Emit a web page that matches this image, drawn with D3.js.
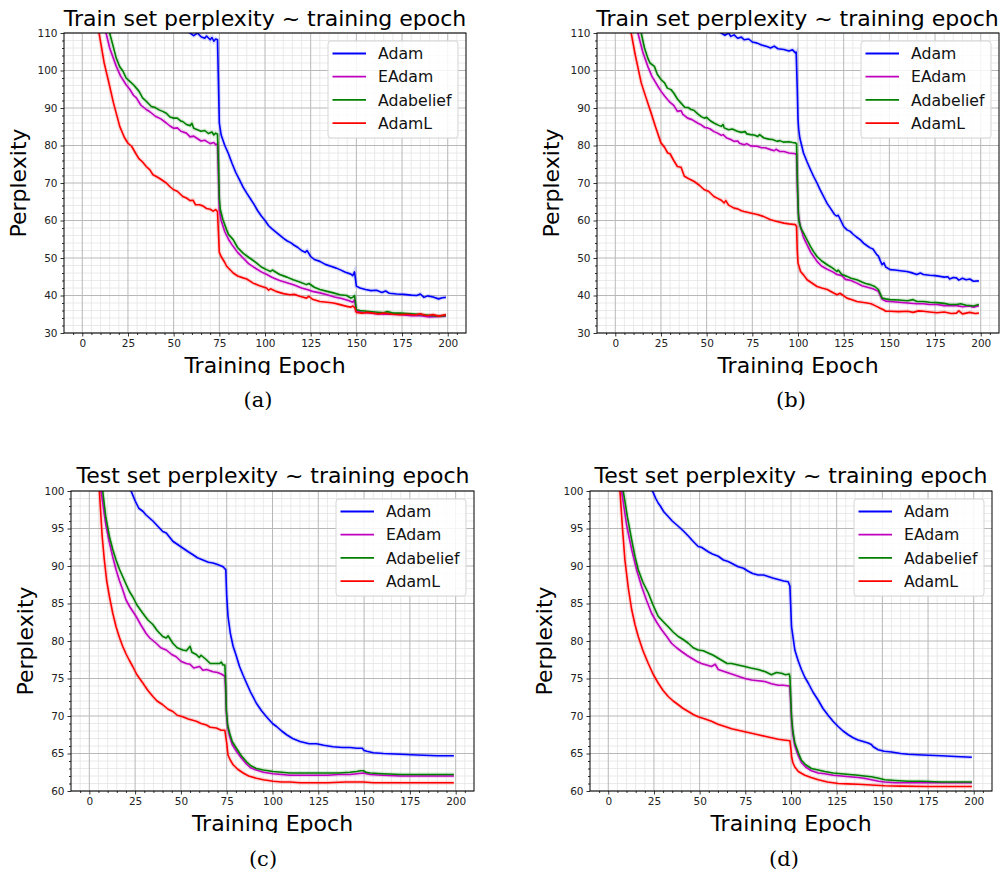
<!DOCTYPE html>
<html>
<head>
<meta charset="utf-8">
<script src="https://cdn.jsdelivr.net/npm/d3@7"></script>
<style>
  body { margin: 0; background: #fff; }
  svg { display: block; font-family: "DejaVu Sans", sans-serif; }
</style>
</head>
<body>
<svg width="1005" height="871"></svg>
<script>
// ---- data: [epoch, perplexity] ----
var seriesNames = ['Adam', 'EAdam', 'Adabelief', 'AdamL'];
var seriesColors = ['#0000ff', '#bf00bf', '#008000', '#ff0000'];
var xTicks = [0, 25, 50, 75, 100, 125, 150, 175, 200];
var trainTicks = [30, 40, 50, 60, 70, 80, 90, 100, 110];
var testTicks = [60, 65, 70, 75, 80, 85, 90, 95, 100];

// (a) train, lr decay at 75 / 150
var adamA = [[0,300],[20,150],[40,120],[55,111.5],[59,110],[61,109.3],[63,110],[65,109],[67,108.6],[68,109.2],[70,108.2],[71,108.8],[72,107.8],[73,108.4],[74,108.2],[75,86],[76,82.8],[78,80],[80,77.8],[82,75.2],[84,72.8],[86,70.9],[88,68.9],[90,67.3],[92,65.8],[94,64.3],[96,62.6],[98,61.2],[100,60],[102,58.6],[104,57.7],[106,56.9],[108,56.1],[110,55.3],[112,54.6],[114,54.1],[116,53.4],[118,52.8],[120,52],[122,51.5],[123,52],[125,50.4],[127,49.6],[130,49.1],[133,48.3],[136,47.8],[139,47.3],[141,46.9],[144,46.2],[147,45.7],[148,45.3],[149,46.3],[150,42.5],[152,42],[155,41.6],[158,41.3],[161,41.4],[164,40.8],[166,41.2],[168,40.6],[172,40.4],[176,40.3],[180,40.1],[183,40],[185,40.4],[187,39.5],[189,39.9],[192,39.6],[195,39.1],[197,39.4],[199,39.5]];
var eadamA = [[0,250],[5,150],[10,118],[13,110],[15,106],[18.6,101.1],[21,98.5],[24,96.2],[26,95],[28,93.4],[29.6,92.7],[32,90.8],[35,89.6],[37,89],[40,87.8],[43,87.1],[46,86],[48,85.2],[50,84.6],[52,84.7],[54,83.8],[57,83.3],[59,82.3],[61,82.5],[62.5,82],[65,81.2],[67,81.4],[68,81.1],[70,80.5],[72,80.8],[73,80.2],[74,80.4],[74.5,72],[75,63],[76,60],[78,57],[80,55],[82,53.5],[85,51.5],[88,50],[91,48.5],[95,47.2],[98,46.3],[101,45.6],[104,44.8],[108,44],[112,43.4],[116,42.8],[120,42],[123,41.6],[126,41.1],[130,40.7],[134,40.2],[138,39.6],[142,39.2],[146,38.6],[148,38.2],[149,38.8],[150,35.9],[153,35.5],[156,35.4],[160,35.2],[165,35],[170,35],[175,34.9],[180,34.6],[185,34.6],[190,34.3],[195,34.4],[199,34.5]];
var adabeliefA = [[0,260],[5,160],[10,122],[15,110],[18.6,103.3],[20.5,101],[22.3,99.8],[24,98],[26,97.1],[28,96.2],[29.6,95.3],[31,94.5],[33,92.7],[35,91.8],[37.8,90.4],[40,90.1],[42,89.5],[44,89.1],[46,88.6],[48,87.6],[50,87.3],[52,87.3],[54,86.5],[55,86.4],[57,85.6],[59,85.3],[60,85.9],[61,84.6],[63,84.2],[65,83.8],[67,84],[69,83.2],[71,83.6],[72,82.8],[73,83.3],[74,83],[74.5,76],[75,66],[75.5,63],[77,60.2],[79,57.5],[80,56.3],[82.6,54.9],[85,52.8],[88,51.3],[91,50.2],[95.3,48.7],[98,47.6],[100.8,46.9],[103,46.4],[104,46.8],[108,45.6],[112,44.9],[115.4,44.2],[119,43.6],[122.7,42.9],[124,43.2],[127,42.2],[130,41.6],[134,41.1],[137.4,40.7],[141,40.2],[144.7,40],[147,39.3],[148.3,39.6],[149,40],[150,36.2],[152,36],[155.6,35.8],[160,35.6],[165,35.4],[167,35.7],[170,35.3],[174,35.3],[180,35.1],[186,34.9],[192,34.6],[196,34.5],[199,34.7]];
var adamlA = [[0,180],[3,145],[6,124],[9,110.5],[12,102],[15,95.8],[17,91.5],[20.5,85.1],[23,82.2],[25,80.6],[27,79.8],[29.6,77.6],[31,76.5],[33,75.6],[35,74.4],[37,73.5],[38.7,72.2],[41,71.6],[43,71],[46,70],[48,69],[50,68.2],[52,67.8],[55,66.4],[57,66],[59,65.3],[60.6,65.4],[62,64.2],[64,64.2],[66,63.9],[68,63.2],[70,63],[71.6,62.5],[73,62.9],[74,62.4],[74.5,57],[75,51.5],[76,50.4],[78,48.8],[79,47.8],[81,46.8],[82.6,46],[85,45.2],[88,44.7],[90,44.4],[93.5,43.3],[97,42.6],[100.8,42],[102,41.4],[103,41.8],[106,41.1],[110,40.5],[113.6,40.2],[116,40.3],[119,39.8],[122.7,39.3],[124,39.8],[126,39],[130,38.4],[134,38.2],[137.4,38],[140,37.7],[144.7,37.1],[147,36.9],[148,37.2],[149.2,36.7],[150,35.5],[153,35.3],[156,35.5],[159,35.3],[162,35.1],[165,35.3],[170,35],[174,34.9],[178,35],[182,34.8],[185,35.1],[188.5,34.6],[192,34.9],[195,34.5],[199,34.9]];

// (b) train, lr decay at 100 / 145
var adamB = [[0,300],[20,160],[40,125],[55,111],[58,110],[60,109.4],[62,110],[63.2,109.1],[65,109.5],[67,108.6],[69,108.9],[70.5,108.2],[73,108.4],[75,107.6],[77.7,107.3],[80,106.8],[83,106.4],[85,106],[87,106.5],[89,105.8],[92.3,105.6],[95,105.2],[97,105.5],[98.6,104.7],[99,104.9],[99.6,95],[100,87],[100.4,84.2],[101,82],[103,78],[105,75.6],[106.8,73.6],[108.5,71.8],[110.4,70],[112,68.3],[114,66.4],[116,64.5],[117.7,63.3],[120,61.6],[121,61.2],[122,61.4],[123.2,60.2],[125,58.4],[126.8,57.5],[128.6,57.1],[130,56.4],[132,55.6],[134,54.9],[136,53.9],[138,53.2],[139.5,52.7],[141,52.4],[143.1,50.9],[144,50.5],[145,49.3],[146,48.2],[147,48.7],[148,47.6],[150.4,46.9],[153,46.8],[156,46.6],[159.5,46.4],[162,46.1],[165,45.6],[167,46],[168.6,45.6],[172,45.4],[175,45.3],[177.7,45.1],[180,44.9],[182,45],[183,44.4],[185,44.8],[186.7,44.7],[188,44.1],[190,44.6],[192,44.2],[194,44.4],[196,43.8],[199,43.9]];
var eadamB = [[0,250],[5,160],[9,120],[12.4,110],[15,105],[17.8,101.1],[20,98.5],[23.3,95.8],[25,94.5],[27,93.2],[28.7,92.2],[30,91.5],[32,90.7],[34,89.1],[36,89.3],[37,88.3],[39.6,87.3],[42,86.9],[45,86],[47,85.5],[49,84.8],[50.5,84.7],[52,84.4],[54,83.7],[56,83.3],[58,82.7],[59,82.9],[61,82],[63.2,81.6],[65,81.1],[67,81.2],[68,80.6],[70.5,80.2],[72,80.5],[74,79.9],[77.7,79.8],[80,79.4],[82,79.4],[85,78.9],[87,78.6],[88,79],[90,78.4],[92.3,78.4],[95,78],[98.6,77.8],[99.2,77.5],[99.7,68],[100.2,62],[101,59],[103,55.5],[105,53.5],[107,51.5],[110.4,49.1],[113,47.8],[116,47],[119,46.3],[121.3,45.6],[124,45.3],[126,44.3],[129,44],[132.2,43.3],[135,42.6],[138,42.2],[141,41.8],[144,41.1],[145,40],[146,39],[148,38.5],[150.4,38.4],[155,38.2],[160,38],[165,37.8],[168.6,37.8],[172,37.6],[176,37.6],[180,37.3],[186.7,37.3],[190,37],[194,37.2],[196,36.9],[199,37.3]];
var adabeliefB = [[0,260],[5,170],[10,125],[14.2,110],[16,106],[17.8,103.3],[19,102],[21.4,101.1],[23,99],[25,97.6],[27,96.7],[28.5,95.3],[30.5,94.9],[32,94],[34,92.4],[36,91.3],[38,90.2],[40,90.1],[41.4,89.6],[43,89.4],[45,88.5],[47,87.7],[48.7,87.3],[50,87.5],[52,86.6],[54,86],[56,85.5],[58,85.1],[59,85.6],[59.6,84.7],[62,84.2],[64,84.4],[66.8,83.8],[69,83.5],[71,83.7],[72,83.1],[74,82.9],[76,82.8],[78,82.4],[79,82.9],[81.4,82],[84,81.7],[86,81.6],[88.6,81.1],[90,81.3],[92,80.9],[95,81],[97,80.8],[98.6,80.7],[99.2,80.4],[99.7,70],[100.2,62],[100.4,60.2],[101.5,58],[103,56.7],[105,54.8],[106.8,53.1],[108.5,51.7],[110.4,50.4],[113,49.2],[116,48.2],[119,47.3],[121.3,46.4],[122,46.8],[124,45.6],[126.8,45.1],[129,44.6],[132.2,44.2],[135,43.6],[137,43.2],[139.5,42.9],[142,42.4],[144,41.6],[145,40.5],[146,39.3],[148,39.1],[150.4,38.9],[155,38.8],[160,38.6],[163,38.9],[165,38.4],[168.6,38.4],[172,38.2],[176,38.1],[180,37.9],[183,37.6],[186.7,37.6],[189,37.8],[192,37.4],[196,37.2],[199,37.6]];
var adamlB = [[0,190],[3,150],[6,125],[8.7,110],[11,104],[14.2,96.7],[17,92.5],[19.6,88.7],[22,85],[25,80.7],[27,79.5],[28.7,78],[30,77.8],[32,76],[34,74.4],[36,74.2],[37.8,71.8],[40,71.2],[43.2,70.4],[46,69.4],[48.7,68.2],[51,67.8],[54,66.4],[56,65.9],[58,65.4],[59.6,64.7],[60.5,65.3],[62,64.1],[65,63.3],[67,63.1],[69,62.6],[70.5,62.4],[74,62],[77.7,61.6],[81,61.1],[85,60.2],[88,59.8],[92.3,59.3],[95,59.1],[98.6,58.9],[99.2,58.4],[99.6,52],[100,48.7],[101.4,46.4],[103,45.5],[105,44.2],[108,43.2],[110.4,42.4],[113,42],[116,41.6],[119,40.8],[121.3,40.2],[123,40.6],[126.8,39.3],[130,38.8],[132.2,38.4],[135,38.2],[137.7,38],[140,37.8],[143,37.1],[145,36.6],[146.8,36.2],[148,35.8],[150.4,35.8],[155,35.7],[160,35.8],[163,35.5],[166,35.9],[168.6,35.8],[172,35.6],[176,35.4],[180,35.6],[184,35.2],[186.7,35.3],[188,35.9],[190,35.1],[194,35.5],[197,35.2],[199,35.3]];

// (c) test, lr decay at 75 / 150
var adamC = [[0,200],[10,130],[20,103],[22.8,100],[25,98.7],[27,97.7],[29.2,97.3],[31,96.8],[34.7,96],[37,95.4],[40.1,94.6],[42,94.4],[45.6,93.3],[48,92.9],[51,92.4],[54,91.9],[56.6,91.5],[59,91.1],[62,90.8],[65,90.5],[67.5,90.4],[70,90.2],[73,89.9],[74.5,89.5],[75,86],[75.7,83.3],[77,81],[78.5,79.3],[80,78.2],[82,76.6],[84,75.4],[85.8,74.4],[88,73.2],[91.2,71.7],[94,70.7],[96.7,69.9],[100,69],[102.2,68.6],[105,68],[107.7,67.5],[111,67],[115,66.6],[120,66.3],[124,66.3],[128,66.1],[133,65.9],[138,65.8],[142.3,65.8],[146,65.7],[149,65.7],[150,65.4],[151.5,65.3],[155,65.1],[160.6,65],[170,64.9],[178.8,64.8],[190,64.7],[199,64.7]];
var eadamC = [[0,140],[4,110],[6.4,100],[9,95.5],[11,93.1],[12.8,91.2],[14.6,89.5],[16.5,88],[18,87],[20,85.5],[22,84.6],[25.5,83.3],[28,82.2],[31,81],[33,80.4],[36.5,79.7],[39,79.1],[42,78.8],[45,78.2],[47.4,77.9],[50,77.3],[52.9,77],[55,76.9],[57,76.4],[60.2,76.6],[62,76.1],[64,76.2],[67.5,75.9],[70,75.8],[72,75.6],[74,75.3],[74.5,73],[74.8,70.5],[75.5,68.5],[76.6,67.3],[78,66.2],[80.3,65.3],[83,64.4],[85.8,63.6],[88,63.1],[91.2,62.8],[95,62.5],[100.4,62.3],[105,62.2],[109.5,62.1],[115,62.1],[124,62.1],[130,62.1],[136,62.2],[142.3,62.2],[146,62.3],[149.6,62.4],[153.3,62.2],[160,62.1],[170,62],[178.8,62],[190,62],[199,62]];
var adabeliefC = [[0,140],[4,112],[7.3,100],[9,96.5],[11,93.9],[12.8,92.2],[14.6,90.8],[16.4,89.6],[18.2,88.6],[20,87.6],[21.9,86.6],[23.7,85.9],[26,84.8],[29.2,83.7],[32,82.8],[34.7,82.2],[37,81.4],[40.1,80.6],[42,80.4],[43,80.7],[45.6,79.7],[48,79.1],[51,78.8],[53,78.7],[55,79.3],[56,78.5],[58.4,78.2],[60,77.8],[61,78.1],[63.9,77.5],[66,77],[68,77],[71.2,77],[72,77.2],[73,76.8],[74,76.8],[74.5,74],[74.8,70.8],[75.5,68.8],[76.6,67.7],[78,66.6],[80.3,65.7],[83,64.7],[85.8,63.9],[88,63.4],[91.2,63],[95,62.8],[100.4,62.6],[105,62.5],[109.5,62.4],[115,62.4],[120,62.4],[124,62.4],[130,62.4],[136,62.4],[142.3,62.5],[146,62.6],[148,62.7],[149.6,62.7],[151,62.5],[153.3,62.4],[160,62.3],[170,62.2],[178.8,62.2],[190,62.2],[199,62.2]];
var adamlC = [[0,130],[3,110],[5.5,100],[7,94],[8.2,90.8],[9.5,88],[11,85.9],[12.8,83.7],[14.6,81.9],[16.4,80.5],[18.2,79.3],[20,78.3],[21.9,77.4],[23.7,76.6],[26,75.5],[29.2,74.4],[32,73.4],[34.7,72.6],[37,72],[40.1,71.5],[43,70.9],[45.6,70.6],[48,70.1],[51,69.9],[54,69.6],[58.4,69.3],[61,69],[63.9,68.8],[66,68.5],[69.3,68.4],[72,68.1],[74,68.1],[74.5,67.2],[75,66.4],[75.7,64.8],[77,64.1],[78.5,63.5],[81,62.9],[84,62.4],[87,62],[91.2,61.7],[95,61.5],[100.4,61.3],[105,61.2],[109.5,61.2],[115,61.1],[124,61.1],[130,61.1],[140,61.2],[149.6,61.2],[155,61.1],[165,61.1],[178.8,61.1],[190,61.1],[199,61.1]];

// (d) test, lr decay at 100 / 145
var adamD = [[0,200],[10,140],[20,108],[24.2,100],[26,99],[27.3,98.4],[28.5,98],[29.2,97.7],[30.5,97.2],[32.8,96.6],[35,96],[38.3,95.3],[41,94.7],[43.8,94],[46,93.4],[49.2,92.6],[51,92.5],[54.7,91.9],[57,91.6],[60.2,91.3],[63,90.8],[65.6,90.6],[68,90.3],[71.1,89.9],[74,89.7],[76.6,89.3],[79,89],[82,88.8],[85,88.8],[87.5,88.6],[90,88.4],[93,88.2],[96,88],[98.5,87.9],[99.4,87.3],[100.3,81.9],[102.1,78.8],[104,77.3],[105.7,76.2],[107.5,75.2],[109.4,74.4],[112,73.2],[114.9,72.1],[117.5,71],[120.3,70.1],[123,69.3],[125.8,68.6],[128.5,68],[131.3,67.5],[134,67.1],[136.7,66.8],[139.5,66.6],[142.2,66.4],[144,66.2],[145,65.9],[147.7,65.5],[151,65.3],[155,65.2],[160,65],[164,64.9],[172,64.8],[182.3,64.7],[190,64.6],[199,64.5]];
var eadamD = [[0,150],[4,112],[7.3,100],[10,95.5],[12.8,92.2],[15.5,89.5],[18.2,87.3],[21,85.4],[23.7,83.7],[26.5,82.5],[29.2,81.5],[32,80.6],[34.6,79.7],[37.4,79.1],[40.1,78.6],[43,78.1],[45.6,77.7],[48.3,77.3],[51,77],[53.8,76.8],[56.5,76.6],[58.5,76.9],[60.2,76.2],[63.8,75.9],[67.5,75.6],[71.1,75.3],[74.7,75],[78.4,74.8],[82,74.7],[85.7,74.6],[89.3,74.3],[93,74.1],[96,74.1],[99,74],[99.4,73.8],[100,71],[100.3,69.5],[101,67.6],[102.1,66],[104,64.7],[105.7,63.8],[108,63.2],[111.2,62.7],[114.9,62.4],[118.5,62.3],[123,62.1],[127.6,62],[132,61.9],[136.7,61.8],[140,61.7],[144,61.5],[148,61.3],[151.3,61.2],[157,61.1],[164,61.1],[172,61.1],[182.3,61.1],[190,61.1],[199,61.1]];
var adabeliefD = [[0,150],[5,112],[8.2,100],[10.5,96.5],[12.8,93.5],[14.6,91.3],[16.4,89.5],[19,87.8],[21.9,86.4],[24.5,84.8],[27.3,83.3],[30,82.6],[32.8,81.9],[35.5,81.2],[38.3,80.6],[41,80.2],[43.8,79.7],[46.5,79.1],[49.2,78.8],[52,78.7],[54.7,78.4],[57.5,78.1],[60.2,77.7],[63,77.3],[65,77],[67.5,77],[71,76.8],[74.7,76.6],[78,76.4],[82,76.2],[86,75.9],[89.3,75.5],[92,75.8],[94.8,75.7],[97,75.5],[99,75.6],[99.4,75.2],[100,71.5],[100.3,69.9],[101,68],[102.1,66.4],[104,65.1],[105.7,64.1],[108,63.5],[111.2,63],[114.9,62.8],[118.5,62.6],[123,62.4],[127.6,62.3],[132,62.2],[136.7,62.1],[140,62],[144,61.9],[148,61.7],[151.3,61.5],[157,61.4],[164,61.3],[172,61.3],[182.3,61.2],[190,61.2],[199,61.2]];
var adamlD = [[0,135],[3,112],[6.4,100],[7.8,95],[9.1,90.8],[11,87],[12.8,84.2],[14.6,82.2],[16.4,80.6],[19,78.7],[21.9,77],[24.5,75.6],[27.3,74.4],[30,73.4],[32.8,72.6],[35.5,72],[38.3,71.5],[41,71],[43.8,70.6],[46.5,70.2],[49.2,69.9],[53,69.6],[56.5,69.3],[60,68.9],[63.8,68.6],[67.5,68.3],[71.1,68.1],[74.7,67.9],[78.4,67.7],[82,67.5],[85.7,67.3],[89.3,67.1],[93,66.9],[96,66.8],[99.4,66.7],[100,65.5],[100.3,64.6],[101,63.8],[102.1,63.2],[104,62.6],[107.6,62.1],[111,61.8],[114.9,61.5],[120,61.2],[125.8,61],[131,60.95],[136.7,60.9],[144,60.8],[151.3,60.7],[160,60.65],[175,60.6],[190,60.6],[199,60.6]];

// ---- layout ----
var panels = [
  { id: 'a', left: 64,  right: 466, top: 33,  bottom: 333, yDomain: [30, 110], ticks: trainTicks, minorStep: 2,
    title: 'Train set perplexity ~ training epoch', titleX: 265, titleY: 26, labelY: 373, clipY: 375,
    cap: '(a)', capX: 258, capY: 407, series: [adamA, eadamA, adabeliefA, adamlA] },
  { id: 'b', left: 597, right: 999, top: 33,  bottom: 333, yDomain: [30, 110], ticks: trainTicks, minorStep: 2,
    title: 'Train set perplexity ~ training epoch', titleX: 797.5, titleY: 26, labelY: 373, clipY: 375,
    cap: '(b)', capX: 791, capY: 407, series: [adamB, eadamB, adabeliefB, adamlB] },
  { id: 'c', left: 71,  right: 474, top: 491, bottom: 791, yDomain: [60, 100], ticks: testTicks, minorStep: 1,
    title: 'Test set perplexity ~ training epoch', titleX: 273, titleY: 483, labelY: 831, clipY: 833,
    cap: '(c)', capX: 263, capY: 866, series: [adamC, eadamC, adabeliefC, adamlC] },
  { id: 'd', left: 590, right: 992, top: 491, bottom: 791, yDomain: [60, 100], ticks: testTicks, minorStep: 1,
    title: 'Test set perplexity ~ training epoch', titleX: 791, titleY: 483, labelY: 831, clipY: 833,
    cap: '(d)', capX: 784, capY: 866, series: [adamD, eadamD, adabeliefD, adamlD] }
];

var svg = d3.select('svg');
var defs = svg.append('defs');

panels.forEach(function(p) {
  var x = d3.scaleLinear().domain([-10, 210]).range([p.left, p.right]);
  var y = d3.scaleLinear().domain(p.yDomain).range([p.bottom, p.top]);
  var g = svg.append('g');

  var xMinor = d3.range(-5, 210, 5).filter(function(v) { return v % 25 !== 0; });
  var yMinor = d3.range(p.yDomain[0], p.yDomain[1], p.minorStep).filter(function(v) { return p.ticks.indexOf(v) < 0; });

  // minor grid
  g.selectAll('.vmin').data(xMinor).enter().append('line')
    .attr('x1', x).attr('x2', x).attr('y1', p.top).attr('y2', p.bottom)
    .attr('stroke', '#e4e4e4').attr('stroke-width', 0.8);
  g.selectAll('.hmin').data(yMinor).enter().append('line')
    .attr('y1', y).attr('y2', y).attr('x1', p.left).attr('x2', p.right)
    .attr('stroke', '#e4e4e4').attr('stroke-width', 0.8);
  // major grid
  g.selectAll('.vmaj').data(xTicks).enter().append('line')
    .attr('x1', x).attr('x2', x).attr('y1', p.top).attr('y2', p.bottom)
    .attr('stroke', '#b8b8b8').attr('stroke-width', 1);
  g.selectAll('.hmaj').data(p.ticks).enter().append('line')
    .attr('y1', y).attr('y2', y).attr('x1', p.left).attr('x2', p.right)
    .attr('stroke', '#b8b8b8').attr('stroke-width', 1);

  // curves, clipped to the axes
  defs.append('clipPath').attr('id', 'clip-' + p.id).append('rect')
    .attr('x', p.left).attr('y', p.top).attr('width', p.right - p.left).attr('height', p.bottom - p.top);
  var line = d3.line().x(function(d) { return x(d[0]); }).y(function(d) { return y(d[1]); });
  var lines = g.append('g').attr('clip-path', 'url(#clip-' + p.id + ')');
  p.series.forEach(function(s, i) {
    lines.append('path').datum(s).attr('d', line).attr('fill', 'none')
      .attr('stroke', seriesColors[i]).attr('stroke-opacity', 0.15).attr('stroke-width', 4);
  });
  p.series.forEach(function(s, i) {
    lines.append('path').datum(s).attr('d', line).attr('fill', 'none')
      .attr('stroke', seriesColors[i]).attr('stroke-width', 1.6).attr('stroke-linejoin', 'round');
  });

  // axes
  var xAxis = g.append('g').attr('transform', 'translate(0,' + p.bottom + ')')
    .call(d3.axisBottom(x).tickValues(xTicks).tickSize(3.5).tickPadding(3));
  g.append('g').attr('transform', 'translate(0,' + p.bottom + ')')
    .call(d3.axisBottom(x).tickValues(xMinor).tickSize(2).tickFormat(''));
  var yAxis = g.append('g').attr('transform', 'translate(' + p.left + ',0)')
    .call(d3.axisLeft(y).tickValues(p.ticks).tickSize(3.5).tickPadding(3));
  g.append('g').attr('transform', 'translate(' + p.left + ',0)')
    .call(d3.axisLeft(y).tickValues(yMinor).tickSize(2).tickFormat(''));
  g.selectAll('.domain').remove();
  g.selectAll('.tick line').attr('stroke', '#000').attr('stroke-width', 0.8);
  g.selectAll('.tick text').attr('font-family', 'DejaVu Sans').attr('font-size', 10.5).attr('fill', '#222');

  g.append('rect').attr('x', p.left).attr('y', p.top)
    .attr('width', p.right - p.left).attr('height', p.bottom - p.top)
    .attr('fill', 'none').attr('stroke', '#000').attr('stroke-width', 1);

  // legend
  var lx = p.right - 138, ly = p.top + 8;
  var leg = g.append('g').attr('transform', 'translate(' + lx + ',' + ly + ')');
  leg.append('rect').attr('width', 130).attr('height', 97).attr('rx', 3)
    .attr('fill', '#fff').attr('fill-opacity', 0.85).attr('stroke', '#d6d6d6').attr('stroke-width', 1);
  seriesNames.forEach(function(name, i) {
    var yy = 12.5 + i * 23.2;
    leg.append('line').attr('x1', 4.5).attr('x2', 38).attr('y1', yy).attr('y2', yy)
      .attr('stroke', seriesColors[i]).attr('stroke-width', 1.8);
    leg.append('text').attr('x', 50).attr('y', yy).attr('dy', '0.36em')
      .attr('font-size', 15.7).attr('fill', '#111').text(name);
  });

  // titles and labels
  svg.append('text').attr('x', p.titleX).attr('y', p.titleY).attr('text-anchor', 'middle')
    .attr('font-size', 22).attr('fill', '#000').text(p.title);
  svg.append('text').attr('transform', 'translate(26,' + ((p.top + p.bottom) / 2) + ') rotate(-90)')
    .attr('x', 0).attr('y', 0).attr('text-anchor', 'middle')
    .attr('font-size', 22).attr('fill', '#000').text('Perplexity')
    .attr('transform', 'translate(' + (p.left - 38) + ',' + ((p.top + p.bottom) / 2) + ') rotate(-90)');
  defs.append('clipPath').attr('id', 'lab-' + p.id).append('rect')
    .attr('x', p.left - 20).attr('y', p.bottom + 10).attr('width', p.right - p.left + 40).attr('height', p.clipY - p.bottom - 10);
  svg.append('text').attr('clip-path', 'url(#lab-' + p.id + ')')
    .attr('x', (p.left + p.right) / 2).attr('y', p.labelY).attr('text-anchor', 'middle')
    .attr('font-size', 22).attr('fill', '#000').text('Training Epoch');
  svg.append('text').attr('x', p.capX).attr('y', p.capY).attr('text-anchor', 'middle')
    .attr('font-family', '"DejaVu Serif", "Liberation Serif", serif').attr('font-size', 21)
    .attr('fill', '#000').text(p.cap);
});
</script>
</body>
</html>
